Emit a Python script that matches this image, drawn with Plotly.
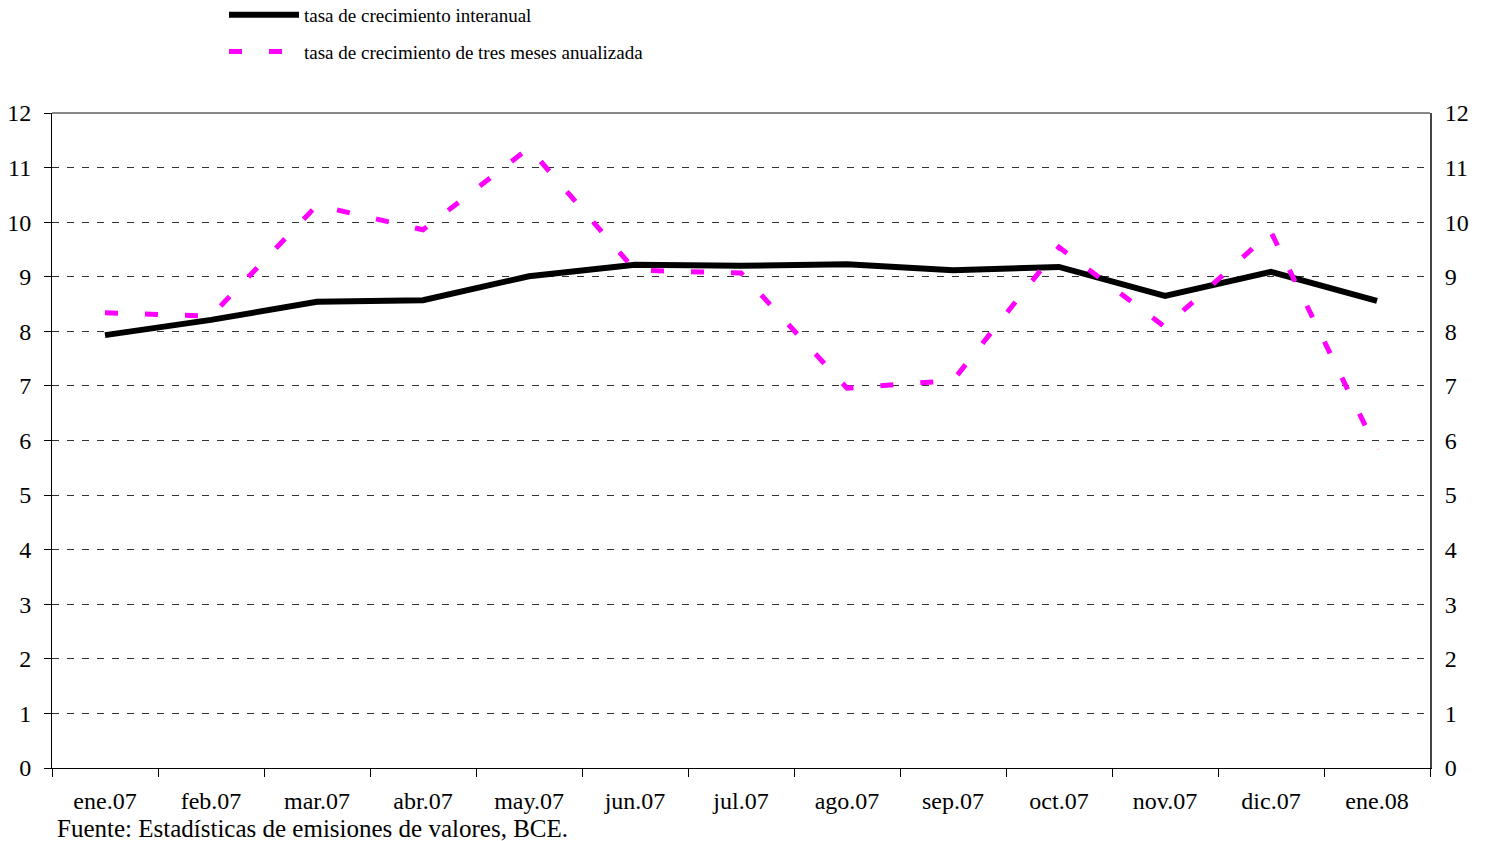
import plotly.graph_objects as go

categories = ["ene.07", "feb.07", "mar.07", "abr.07", "may.07", "jun.07", "jul.07",
              "ago.07", "sep.07", "oct.07", "nov.07", "dic.07", "ene.08"]
interanual = [7.93, 8.21, 8.54, 8.57, 9.01, 9.22, 9.20, 9.23, 9.12, 9.18, 8.65, 9.09, 8.56]
tres_meses = [8.34, 8.28, 10.31, 9.86, 11.36, 9.12, 9.07, 6.96, 7.10, 9.54, 8.08, 9.82, 5.83]
y_ticks = list(range(0, 13))

FONT = "Liberation Serif, Times New Roman, serif"

fig = go.Figure()
fig.add_trace(go.Scatter(
    x=categories, y=interanual, mode="lines",
    name="tasa de crecimiento interanual", legendgroup="a",
    line=dict(color="black", width=6),
))
fig.add_trace(go.Scatter(
    x=categories, y=tres_meses, mode="lines",
    name="tasa de crecimiento de tres meses anualizada", legendgroup="b",
    line=dict(color="#FF00FF", width=5, dash="13px,27px"),
))
# invisible trace for the right-hand axis
fig.add_trace(go.Scatter(
    x=categories, y=interanual, mode="lines", yaxis="y2",
    line=dict(width=0), opacity=0, showlegend=False, hoverinfo="skip",
))

W, H = 1490, 841
ML, MR, MT, MB = 52, 60, 113, 73
plot_h = H - MT - MB
plot_w = W - ML - MR

fig.update_layout(
    width=W, height=H,
    margin=dict(l=ML, r=MR, t=MT, b=MB, autoexpand=False),
    paper_bgcolor="white", plot_bgcolor="white",
    font=dict(family=FONT, size=24, color="black"),
    showlegend=True,
    legend=dict(
        x=(224 - ML) / plot_w, y=1 + (MT + 4) / plot_h, xanchor="left", yanchor="top",
        orientation="v", itemwidth=70,
        font=dict(family=FONT, size=19, color="black"),
        bgcolor="rgba(0,0,0,0)", tracegroupgap=9,
    ),
    xaxis=dict(
        type="category", range=[-0.5, 12.5],
        tickson="boundaries", ticks="outside", ticklen=8, tickcolor="black",
        showline=True, linecolor="black", linewidth=1,
        showgrid=False, zeroline=False,
        tickfont=dict(family=FONT, size=24), ticklabelstandoff=11,
    ),
    yaxis=dict(
        range=[0, 12], tickvals=y_ticks, ticks="outside", ticklen=7, tickcolor="black",
        showline=True, linecolor="black", linewidth=1,
        showgrid=True, gridcolor="#333333", gridwidth=1, griddash="7px,8px",
        zeroline=False, tickfont=dict(family=FONT, size=24), ticklabelstandoff=8,
    ),
    yaxis2=dict(
        range=[0, 12], tickvals=y_ticks, overlaying="y", side="right",
        ticks="", showline=True, linecolor="#444444", linewidth=2,
        showgrid=False, zeroline=False, tickfont=dict(family=FONT, size=24),
        ticklabelstandoff=8,
    ),
    shapes=[dict(type="line", xref="x domain", yref="y domain", x0=0, x1=1, y0=1, y1=1,
                 line=dict(color="#888888", width=2))],
    annotations=[dict(
        text="Fuente: Estadísticas de emisiones de valores, BCE.",
        xref="paper", yref="paper", x=3 / plot_w, y=-60 / plot_h,
        xanchor="left", yanchor="middle",
        showarrow=False, font=dict(family=FONT, size=25, color="black"),
    )],
)

fig.write_html("out.html", config={"displayModeBar": False},
               post_script="document.body.style.margin='0';")
